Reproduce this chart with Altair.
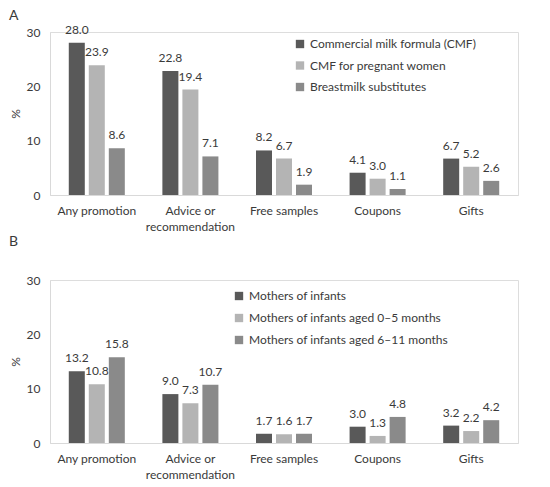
import altair as alt
import pandas as pd

categories = ["Any promotion", "Advice or recommendation", "Free samples", "Coupons", "Gifts"]

series_a = ["Commercial milk formula (CMF)", "CMF for pregnant women", "Breastmilk substitutes"]
values_a = {
    "Commercial milk formula (CMF)": [28.0, 22.8, 8.2, 4.1, 6.7],
    "CMF for pregnant women": [23.9, 19.4, 6.7, 3.0, 5.2],
    "Breastmilk substitutes": [8.6, 7.1, 1.9, 1.1, 2.6],
}

series_b = ["Mothers of infants", "Mothers of infants aged 0–5 months", "Mothers of infants aged 6–11 months"]
values_b = {
    "Mothers of infants": [13.2, 9.0, 1.7, 3.0, 3.2],
    "Mothers of infants aged 0–5 months": [10.8, 7.3, 1.6, 1.3, 2.2],
    "Mothers of infants aged 6–11 months": [15.8, 10.7, 1.7, 4.8, 4.2],
}

colors = ["#595959", "#b4b4b4", "#8a8a8a"]
FONT = "Lato"
FS = 12
TEXT_COLOR = "#3a3a3a"


def make_df(series, values):
    rows = []
    for s in series:
        for c, v in zip(categories, values[s]):
            rows.append({"category": c, "series": s, "value": v})
    return pd.DataFrame(rows)


def panel(series, values, letter, legend_x, legend_y, row_pad, title_offset):
    df = make_df(series, values)
    base = alt.Chart(df).encode(
        x=alt.X(
            "category:N",
            sort=categories,
            title=None,
            scale=alt.Scale(paddingInner=0.38, paddingOuter=0.19),
            axis=alt.Axis(
                labelAngle=0,
                ticks=False,
                domainColor="#d9d9d9",
                labelFontSize=FS,
                labelFont=FONT,
                labelColor=TEXT_COLOR,
                labelPadding=10,
                labelLineHeight=16,
                labelExpr="datum.label == 'Advice or recommendation' ? ['Advice or', 'recommendation'] : datum.label",
            ),
        ),
        xOffset=alt.XOffset(
            "series:N",
            sort=series,
            scale=alt.Scale(domain=series, paddingInner=0.2, paddingOuter=0.05),
        ),
        y=alt.Y(
            "value:Q",
            scale=alt.Scale(domain=[0, 30]),
            axis=alt.Axis(
                values=[0, 10, 20, 30],
                grid=False,
                ticks=False,
                domainColor="#d9d9d9",
                labelFontSize=FS,
                labelFont=FONT,
                labelColor=TEXT_COLOR,
                labelPadding=10,
                title="%",
                titleFont=FONT,
                titleFontSize=FS,
                titleFontWeight="normal",
                titleColor=TEXT_COLOR,
                titlePadding=4,
            ),
        ),
    )
    bars = base.mark_bar().encode(
        color=alt.Color(
            "series:N",
            sort=series,
            scale=alt.Scale(domain=series, range=colors),
            legend=alt.Legend(
                title=None,
                orient="none",
                legendX=legend_x,
                legendY=legend_y,
                symbolType="square",
                symbolSize=70,
                symbolStrokeWidth=0,
                labelFont=FONT,
                labelFontSize=FS,
                labelColor=TEXT_COLOR,
                labelLimit=400,
                rowPadding=row_pad,
                labelOffset=4,
            ),
        )
    )
    labels = base.mark_text(
        baseline="middle", dy=-13, font=FONT, fontSize=FS, color=TEXT_COLOR
    ).encode(text=alt.Text("value:Q", format=".1f"))
    return alt.layer(bars, labels).properties(
        width=468,
        height=163,
        title=alt.TitleParams(
            letter,
            anchor="start",
            frame="bounds",
            font=FONT,
            fontSize=14,
            fontWeight="normal",
            color=TEXT_COLOR,
            offset=title_offset,
        ),
    )


chart_a = panel(series_a, values_a, "A", 244, 6, 9.5, 1)
chart_b = panel(series_b, values_b, "B", 183, 10, 10, 25)

chart = (
    alt.vconcat(chart_a, chart_b, spacing=1)
    .resolve_scale(color="independent", xOffset="independent")
    .properties(padding={"left": 0, "top": 0, "right": 0, "bottom": 0})
    .configure_view(stroke=None)
    .configure(background="white")
)

chart.save("out.html", embed_options={"renderer": "svg", "actions": False})
